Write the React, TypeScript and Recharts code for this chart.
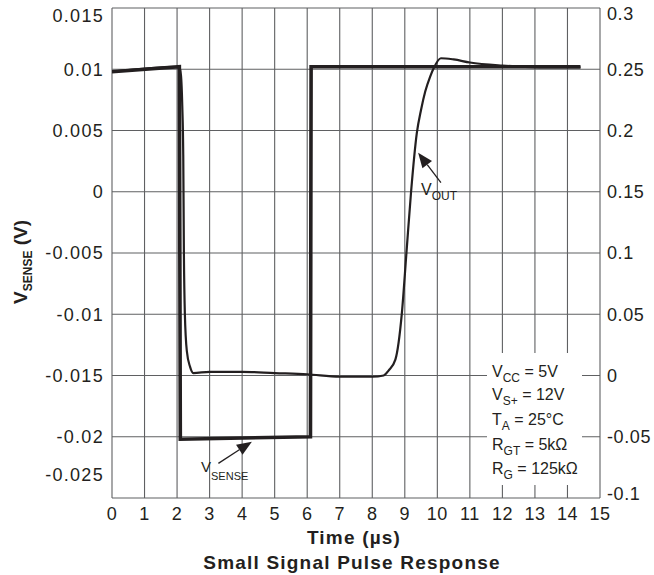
import React from 'react';
import { LineChart, Line, XAxis, YAxis, CartesianGrid, ReferenceLine } from 'recharts';

// axis ticks
const timeTicks = [0, 1, 2, 3, 4, 5, 6, 7, 8, 9, 10, 11, 12, 13, 14, 15];
const senseTicks = [-0.025, -0.02, -0.015, -0.01, -0.005, 0, 0.005, 0.01, 0.015];
const outTicks = [-0.1, -0.05, 0, 0.05, 0.1, 0.15, 0.2, 0.25, 0.3];

// V_SENSE trace (left axis, V)
const vsenseTime = [0, 2.07, 2.1, 6.1, 6.12, 14.4];
const vsenseVolts = [0.0098, 0.0102, -0.0202, -0.02, 0.0102, 0.0102];

// V_OUT trace (right axis, V)
const voutTime = [
  0, 2.07, 2.12, 2.16, 2.19, 2.21, 2.24, 2.3, 2.4, 2.5, 3, 4, 5, 6, 7, 8, 8.35, 8.5, 8.71,
  8.91, 9.05, 9.19, 9.37, 9.5, 9.63, 9.78, 9.89, 10.11, 10.5, 11, 12, 12.7, 13.5, 14.4,
];
const voutVolts = [
  0.248, 0.252, 0.245, 0.22, 0.18, 0.1, 0.05, 0.02, 0.007, 0.002, 0.003, 0.003, 0.002, 0.001,
  -0.001, -0.001, 0.0, 0.004, 0.013, 0.051, 0.1, 0.149, 0.198, 0.217, 0.232, 0.244, 0.251, 0.259,
  0.258, 0.2555, 0.253, 0.252, 0.2515, 0.2515,
];

const vsenseData = vsenseTime.map((t, i) => ({ t, v: vsenseVolts[i] }));
const voutData = voutTime.map((t, i) => ({ t, v: voutVolts[i] }));

const INK = '#231f20';
const GRID = '#5f6062';
const FONT = '"Liberation Sans", Arial, Helvetica, sans-serif';

const LeftTick = (props: any) => {
  const { x, y, payload } = props;
  const v = payload.value;
  let shift = 0;
  if (Math.abs(v - 0.015) < 1e-9) shift = 8;
  if (Math.abs(v + 0.025) < 1e-9) shift = -23;
  return (
    <text x={x} y={y + shift} dy="0.36em" textAnchor="end" fontSize={18} letterSpacing={1.3}
      fontFamily={FONT} fill={INK}>
      {String(v)}
    </text>
  );
};

const RightTick = (props: any) => {
  const { x, y, payload } = props;
  const v = payload.value;
  let shift = 0;
  if (Math.abs(v - 0.3) < 1e-9) shift = 6;
  if (Math.abs(v + 0.1) < 1e-9) shift = -4;
  return (
    <text x={x} y={y + shift} dy="0.36em" textAnchor="start" fontSize={18} letterSpacing={0.6}
      fontFamily={FONT} fill={INK}>
      {String(v)}
    </text>
  );
};

const Arrow = (props: any) => {
  const { x1, y1, x2, y2 } = props;
  const ang = Math.atan2(y2 - y1, x2 - x1);
  const len = 15;
  const half = 6;
  const bx = x2 - len * Math.cos(ang);
  const by = y2 - len * Math.sin(ang);
  const px = -Math.sin(ang) * half;
  const py = Math.cos(ang) * half;
  return (
    <g>
      <line x1={x1} y1={y1} x2={bx} y2={by} stroke={INK} strokeWidth={1.3} />
      <polygon points={`${x2},${y2} ${bx + px},${by + py} ${bx - px},${by - py}`} fill={INK} />
    </g>
  );
};

const App: React.FC = () => {
  return (
    <div style={{ position: 'absolute', left: 0, top: 0, width: 654, height: 575, background: '#fff' }}>
      <LineChart width={654} height={575} margin={{ top: 8, right: 0, bottom: 0, left: 0 }}>
        <CartesianGrid yAxisId="sense" stroke={GRID} strokeWidth={1.1} />
        <XAxis
          dataKey="t"
          type="number"
          domain={[0, 15]}
          ticks={timeTicks}
          interval={0}
          height={77}
          axisLine={false}
          tickLine={false}
          tickSize={0}
          tickMargin={9}
          tick={{ fontSize: 18, fill: INK, fontFamily: FONT, letterSpacing: 0.5 }}
          allowDataOverflow
        />
        <YAxis
          yAxisId="sense"
          orientation="left"
          type="number"
          domain={[-0.025, 0.015]}
          ticks={senseTicks}
          interval={0}
          width={112}
          axisLine={false}
          tickLine={false}
          tickSize={0}
          tickMargin={8}
          tick={<LeftTick />}
          allowDataOverflow
        />
        <YAxis
          yAxisId="out"
          orientation="right"
          type="number"
          domain={[-0.1, 0.3]}
          ticks={outTicks}
          interval={0}
          width={54}
          axisLine={false}
          tickLine={false}
          tickSize={0}
          tickMargin={7}
          tick={<RightTick />}
          allowDataOverflow
        />
        <Line
          yAxisId="sense"
          data={vsenseData}
          dataKey="v"
          type="linear"
          stroke={INK}
          strokeWidth={3.6}
          dot={false}
          isAnimationActive={false}
        />
        <Line
          yAxisId="out"
          data={voutData}
          dataKey="v"
          type="monotone"
          stroke={INK}
          strokeWidth={2.2}
          dot={false}
          isAnimationActive={false}
        />
        <ReferenceLine
          yAxisId="sense"
          segment={[{ x: 10.11, y: 0.00074 }, { x: 9.41, y: 0.00319 }]}
          shape={(p: any) => <Arrow {...p} />}
        />
        <ReferenceLine
          yAxisId="sense"
          segment={[{ x: 3.27, y: -0.02217 }, { x: 4.3, y: -0.0204 }]}
          shape={(p: any) => <Arrow {...p} />}
        />
      </LineChart>
      <svg
        width={654}
        height={575}
        style={{ position: 'absolute', left: 0, top: 0, pointerEvents: 'none' }}
        fontFamily={FONT}
        fill={INK}
      >
        {/* y axis title */}
        <text transform="translate(27,262) rotate(-90)" textAnchor="middle" fontSize={19} fontWeight="bold">
          V<tspan fontSize={12} dy={5}>SENSE</tspan>
          <tspan dy={-5}> (V)</tspan>
        </text>
        {/* x axis title and caption */}
        <text x={354} y={544} textAnchor="middle" fontSize={19} fontWeight="bold" letterSpacing={1.2}>
          Time (µs)
        </text>
        <text x={352} y={569} textAnchor="middle" fontSize={19} fontWeight="bold" letterSpacing={1.2}>
          Small Signal Pulse Response
        </text>
        {/* trace labels */}
        <text x={421} y={195} fontSize={16}>
          V<tspan fontSize={12} dy={5}>OUT</tspan>
        </text>
        <text x={201} y={472} fontSize={15}>
          V<tspan fontSize={11} dy={8}>SENSE</tspan>
        </text>
        {/* conditions box */}
        <rect x={487} y={353} width={95} height={132} fill="#fff" />
        <text x={492} y={377} fontSize={16}>
          V<tspan fontSize={12} dy={5}>CC</tspan>
          <tspan dy={-5}> = 5V</tspan>
        </text>
        <text x={492} y={400} fontSize={16}>
          V<tspan fontSize={12} dy={5}>S+</tspan>
          <tspan dy={-5}> = 12V</tspan>
        </text>
        <text x={492} y={425} fontSize={16}>
          T<tspan fontSize={12} dy={5}>A</tspan>
          <tspan dy={-5}> = 25°C</tspan>
        </text>
        <text x={492} y={450} fontSize={16}>
          R<tspan fontSize={12} dy={5}>GT</tspan>
          <tspan dy={-5}> =  5kΩ</tspan>
        </text>
        <text x={492} y={474} fontSize={16}>
          R<tspan fontSize={12} dy={5}>G</tspan>
          <tspan dy={-5}> = 125kΩ</tspan>
        </text>
      </svg>
    </div>
  );
};

export default App;
